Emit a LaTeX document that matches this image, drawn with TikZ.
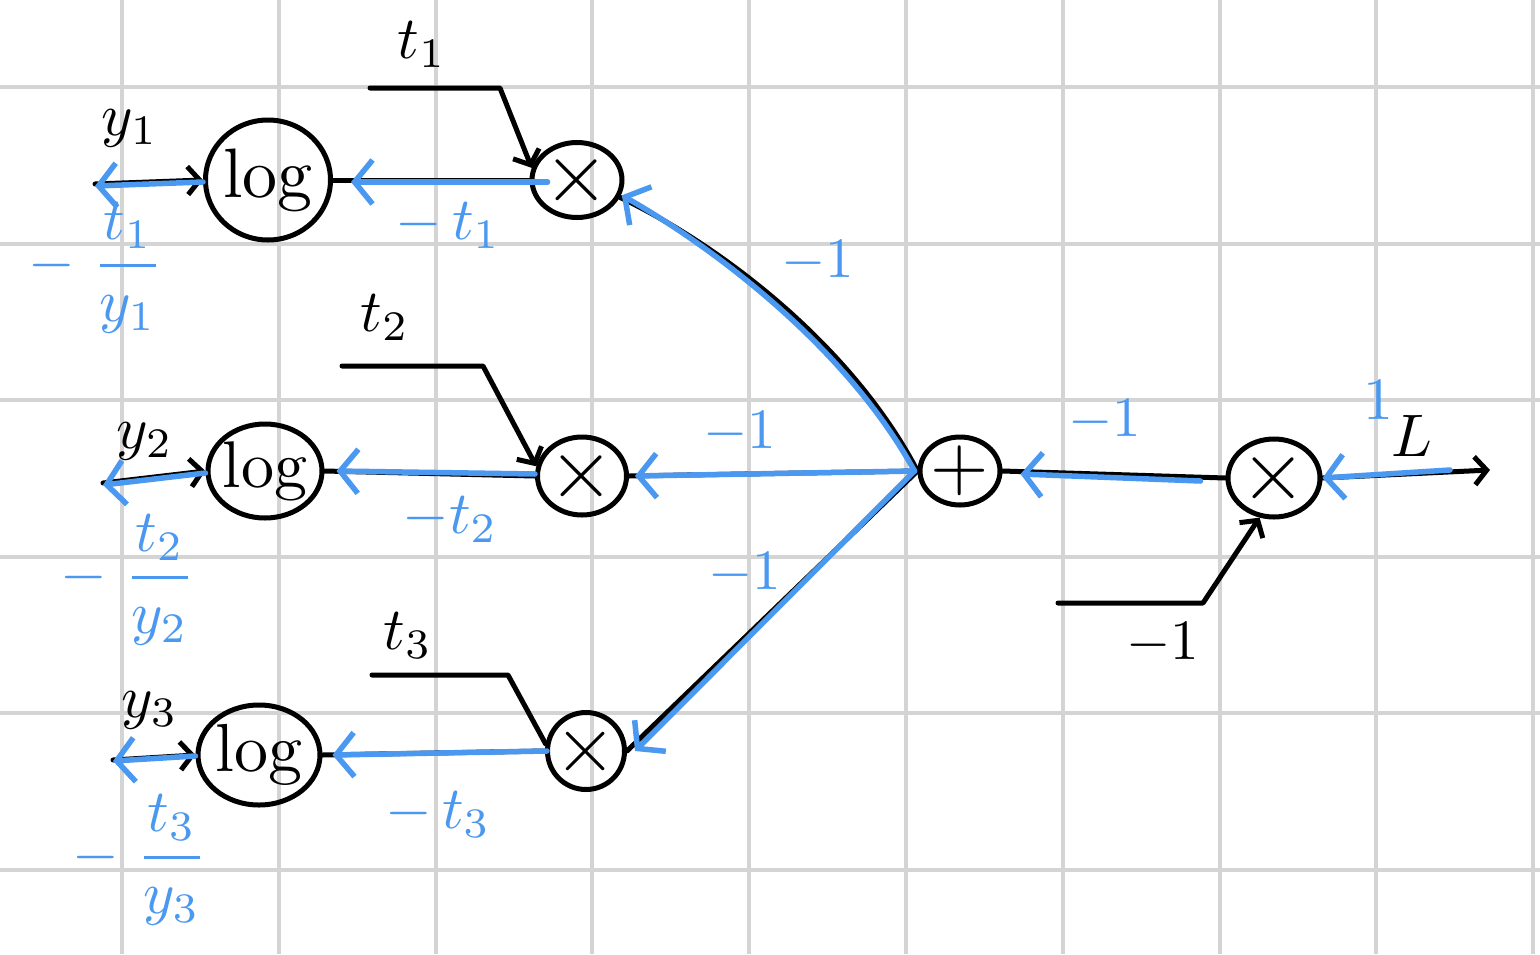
\documentclass[tikz,border=0pt]{standalone}
\usetikzlibrary{arrows.meta,shapes.geometric}
\definecolor{gridc}{RGB}{212,212,212}
\definecolor{pen}{RGB}{74,152,240}
\begin{document}
\begin{tikzpicture}[x=1pt,y=-1pt,
  blk/.style={line width=5pt,black,line cap=round,line join=round},
  blu/.style={line width=5.5pt,pen,line cap=round,line join=round},
  btip/.style={-{Straight Barb[length=12pt,width=28pt,line width=5pt]}},
  ltip/.style={-{Straight Barb[length=18pt,width=44pt,line width=5.5pt]}},
  opnode/.style={blk,draw,ellipse,inner sep=-20pt},
  lbl/.style={inner sep=0pt,scale=6},
  blbl/.style={inner sep=0pt,scale=6,text=pen},
  gridline/.style={line width=4pt,gridc}]
\useasboundingbox (0,0) rectangle (1540,954);
\fill[white] (0,0) rectangle (1540,954);
% grid
\foreach \i in {0,...,9} \draw[gridline] (122+156.8*\i,0) -- (122+156.8*\i,954);
\foreach \j in {0,...,5} \draw[gridline] (0,87+156.6*\j) -- (1540,87+156.6*\j);

% operation nodes
\node[opnode,minimum width=125pt,minimum height=120pt] (log1) at (268,180) {\scalebox{7}{log}};
\node[opnode,minimum width=114pt,minimum height=94pt] (log2) at (265,471) {\scalebox{6.6}{log}};
\node[opnode,minimum width=122pt,minimum height=100pt] (log3) at (259,755) {\scalebox{6.8}{log}};
\node[opnode,minimum width=90pt,minimum height=75pt] (mul1) at (577,180) {\scalebox{8.5}{$\times$}};
\node[opnode,minimum width=89pt,minimum height=78pt] (mul2) at (582,476) {\scalebox{8.5}{$\times$}};
\node[opnode,minimum width=77pt,minimum height=77pt] (mul3) at (586,751) {\scalebox{8}{$\times$}};
\node[opnode,minimum width=80pt,minimum height=68pt] (plus) at (960,471) {\scalebox{7.5}{$+$}};
\node[opnode,minimum width=92pt,minimum height=78pt] (mul4) at (1274,478) {\scalebox{8.5}{$\times$}};

% free ends
\coordinate (y1in) at (95,184);
\coordinate (y2in) at (103,483);
\coordinate (y3in) at (113,760);
\coordinate (t1in) at (370,88);
\coordinate (t2in) at (342,366);
\coordinate (t3in) at (372,675);
\coordinate (m1in) at (1058,603);
\coordinate (Lout) at (1490,470);
\coordinate (Lg) at (1450,470);

% black forward connectors
\draw[blk,btip] (y1in) -- (log1.west);
\draw[blk,btip] (y2in) -- (log2.west);
\draw[blk,btip] (y3in) -- (log3.west);
\draw[blk] (log1.east) -- (mul1.west);
\draw[blk] (log2.east) -- (mul2.west);
\draw[blk] (log3.east) -- (mul3.west);
\draw[blk,btip] (t1in) -- (500,88) -- (mul1.165);
\draw[blk,btip] (t2in) -- (483,366) -- (mul2.168);
\draw[blk] (t3in) -- (508,675) -- (mul3.170);
\draw[blk] (mul1.-22) .. controls (722,246) and (852,346) .. (plus.west);
\draw[blk] (mul2.east) -- (plus.west);
\draw[blk] (mul3.east) -- (plus.west);
\draw[blk] (plus.east) -- (mul4.west);
\draw[blk,btip] (m1in) -- (1203,603) -- (mul4.250);
\draw[blk,btip] (mul4.east) -- (Lout);

% blue backward connectors
\draw[blu,ltip] ([yshift=-2pt]log1.west) -- ([yshift=-2pt]y1in);
\draw[blu,ltip] ([yshift=-2pt]log2.west) -- ([yshift=-2pt]y2in);
\draw[blu,ltip] ([yshift=-1pt]log3.west) -- ([yshift=-1pt]y3in);
\draw[blu,ltip] ([xshift=18pt,yshift=-2pt]mul1.west) -- ([xshift=18pt,yshift=-2pt]log1.east);
\draw[blu,ltip] ([yshift=2pt]mul2.west) -- ([xshift=12pt]log2.east);
\draw[blu,ltip] ([xshift=2pt]mul3.west) -- ([xshift=10pt]log3.east);
\draw[blu,ltip] ([xshift=-3pt]plus.west) .. controls (848,350) and (718,250) .. ([xshift=2pt,yshift=2pt]mul1.-22);
\draw[blu,ltip] ([xshift=-3pt]plus.west) -- ([xshift=6pt]mul2.east);
\draw[blu,ltip] ([xshift=-3pt]plus.west) -- ([xshift=8pt]mul3.east);
\draw[blu,ltip] ([xshift=-25pt,yshift=-3pt]mul4.west) -- ([xshift=18pt,yshift=-3pt]plus.east);
\draw[blu,ltip] (Lg) -- (mul4.east);

% black labels
\node[lbl] (ly1) at (130,128) {$y_1$};
\node[lbl] (ly2) at (145,441) {$y_2$};
\node[lbl] (ly3) at (150,710) {$y_3$};
\node[lbl] (lt1) at (422,45) {$t_1$};
\node[lbl] (lt2) at (385,318) {$t_2$};
\node[lbl] (lt3) at (408,636) {$t_3$};
\node[lbl,scale=0.95] (lm1) at (1163,643) {$-1$};
\node[lbl] (lL) at (1412,436) {$L$};

% blue labels
\node[blbl] (g1) at (96,268) {$\displaystyle -\;\frac{t_1}{y_1}$};
\node[blbl] (g2) at (128,580) {$\displaystyle -\;\frac{t_2}{y_2}$};
\node[blbl] (g3) at (140,860) {$\displaystyle -\;\frac{t_3}{y_3}$};
\node[blbl] (gt1) at (448,226) {$-\,t_1$};
\node[blbl] (gt2) at (450,520) {$-t_2$};
\node[blbl] (gt3) at (438,815) {$-\,t_3$};
\node[blbl,scale=0.95] (ga) at (818,262) {$-1$};
\node[blbl,scale=0.95] (gb) at (740,432) {$-1$};
\node[blbl,scale=0.95] (gc) at (745,573) {$-1$};
\node[blbl,scale=0.95] (gd) at (1105,420) {$-1$};
\node[blbl] (ge) at (1378,400) {$1$};
\end{tikzpicture}
\end{document}
